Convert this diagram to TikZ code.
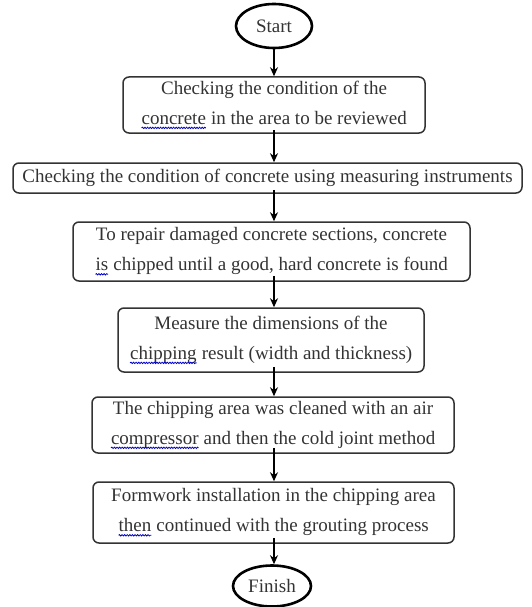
\documentclass[tikz,border=0pt]{standalone}
\usepackage{fontspec}
\setmainfont{Liberation Serif}
\usetikzlibrary{arrows.meta,shapes.geometric,decorations.pathmorphing}
\newcommand\spellwave[1]{\tikz[baseline=(w.base)]{\node[draw=none,fill=none,shape=rectangle,inner sep=0pt,outer sep=0pt,minimum width=0pt,minimum height=0pt,text=black!80](w){#1};
  \draw[draw=blue!80!black, line width=0.8pt, sharp corners, decorate, decoration={snake,amplitude=0.7pt,segment length=2.6pt}] ([yshift=-3.5pt]w.base west) -- ([yshift=-3.5pt]w.base east);}}
\tikzset{
  stepbox/.style={draw=black!80, line width=1.5pt, rounded corners=6pt, align=center,
    inner sep=0pt, font=\fontsize{19}{30}\selectfont, text=black!80},
  terminal/.style={draw=black, ellipse, line width=2.6pt, inner sep=0pt,
    font=\fontsize{19}{20}\selectfont, text=black!80},
  flow/.style={line width=1.9pt, -{Stealth[length=9pt,width=8pt]}}
}
\begin{document}
\begin{tikzpicture}[x=1pt,y=-1pt]
\useasboundingbox[fill=white] (0,0) rectangle (531,607);
\node[terminal, minimum width=76pt, minimum height=44pt] (S) at (274,26) {Start};
\node[stepbox, minimum width=302pt, minimum height=56pt] (b1) at (274,105)
  {Checking the condition of the\\\spellwave{concrete} in the area to be reviewed};
\node[stepbox, minimum width=509pt, minimum height=30pt] (b2) at (267.5,178)
  {Checking the condition of concrete using measuring instruments};
\node[stepbox, minimum width=397pt, minimum height=59pt] (b3) at (271.5,251.5)
  {To repair damaged concrete sections, concrete\\\spellwave{is} chipped until a good, hard concrete is found};
\node[stepbox, minimum width=306pt, minimum height=64pt] (b4) at (271,340)
  {Measure the dimensions of the\\\spellwave{chipping} result (width and thickness)};
\node[stepbox, minimum width=362pt, minimum height=56pt] (b5) at (273,425)
  {The chipping area was cleaned with an air\\\spellwave{compressor} and then the cold joint method};
\node[stepbox, minimum width=361pt, minimum height=61pt] (b6) at (273.5,512.5)
  {Formwork installation in the chipping area\\\spellwave{then} continued with the grouting process};
\node[terminal, minimum width=78pt, minimum height=41pt] (F) at (272,586) {Finish};
\draw[flow] (S.south) -- (b1.north -| S.south);
\draw[flow] ([yshift=4pt]b1.south -| S.south) -- (b2.north -| S.south);
\draw[flow] ([yshift=4pt]b2.south -| S.south) -- (b3.north -| S.south);
\draw[flow] ([yshift=6pt]b3.south -| S.south) -- (b4.north -| S.south);
\draw[flow] ([yshift=6pt]b4.south -| S.south) -- (b5.north -| S.south);
\draw[flow] ([yshift=6pt]b5.south -| S.south) -- (b6.north -| S.south);
\draw[flow] ([yshift=6pt]b6.south -| S.south) -- (F.north -| S.south);
\end{tikzpicture}
\end{document}
